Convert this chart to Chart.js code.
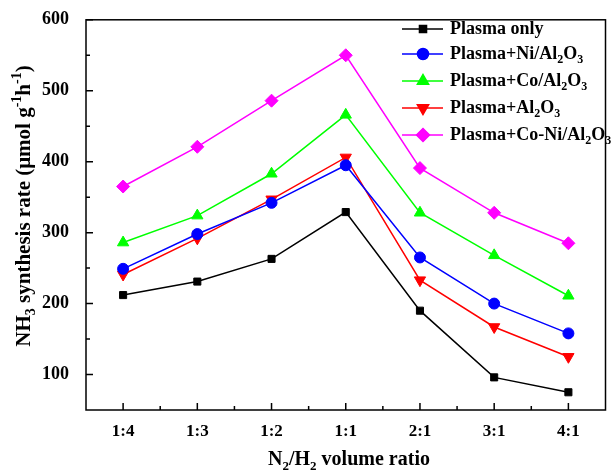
<!DOCTYPE html>
<html>
<head>
<meta charset="utf-8">
<script src="https://cdn.jsdelivr.net/npm/chart.js@4/dist/chart.umd.min.js"></script>
<style>
  body { margin: 0; background: #fff; }
  #wrap { width: 613px; height: 472px; }
</style>
</head>
<body>
<div id="wrap"><canvas id="rateChart" width="613" height="472"></canvas></div>
<script>
// N2/H2 ratio categories and NH3 synthesis rates (umol g-1 h-1)
const ratios = ['1:4', '1:3', '1:2', '1:1', '2:1', '3:1', '4:1'];
const plasmaOnly = [212, 231, 263, 329, 190, 96, 75];
const plasmaNi = [249, 298, 342, 395, 265, 200, 158];
const plasmaCo = [286, 324, 383, 466, 328, 268, 211];
const plasmaAl = [241, 292, 347, 406, 233, 167, 125];
const plasmaCoNi = [365, 421, 486, 550, 391, 328, 285];

const yTicks = [100, 200, 300, 400, 500, 600];
const yMinorTicks = [150, 250, 350, 450, 550];

// legend text pieces: [text, 0 normal / -1 subscript / 1 superscript]
const legendLabels = [
    [['Plasma only', 0]],
    [['Plasma+Ni/Al', 0], ['2', -1], ['O', 0], ['3', -1]],
    [['Plasma+Co/Al', 0], ['2', -1], ['O', 0], ['3', -1]],
    [['Plasma+Al', 0], ['2', -1], ['O', 0], ['3', -1]],
    [['Plasma+Co-Ni/Al', 0], ['2', -1], ['O', 0], ['3', -1]]
];
const xTitle = [['N', 0], ['2', -1], ['/H', 0], ['2', -1], [' volume ratio', 0]];
const yTitle = [['NH', 0], ['3', -1], [' synthesis rate (\u03bcmol g', 0], ['-1', 1], ['h', 0], ['-1', 1], [')', 0]];

const FONT = '"Liberation Serif", "Times New Roman", serif';

function richWidth(ctx, segs, size) {
    let w = 0;
    segs.forEach(s => {
        ctx.font = 'bold ' + (s[1] ? Math.round(size * 0.65) : size) + 'px ' + FONT;
        w += ctx.measureText(s[0]).width;
    });
    return w;
}

function drawRich(ctx, segs, x, y, size) {
    let cx = x;
    ctx.textBaseline = 'middle';
    ctx.textAlign = 'left';
    segs.forEach(s => {
        const small = s[1] !== 0;
        ctx.font = 'bold ' + (small ? Math.round(size * 0.65) : size) + 'px ' + FONT;
        let dy = 0;
        if (s[1] === -1) dy = size * 0.32;
        if (s[1] === 1) dy = -size * 0.35;
        ctx.fillText(s[0], cx, y + dy);
        cx += ctx.measureText(s[0]).width;
    });
}

// frame, inward ticks, axis titles and legend
const decorPlugin = {
    id: 'decor',
    afterDraw(chart) {
        const ctx = chart.ctx;
        const area = chart.chartArea;
        const xs = chart.scales.x;
        const ys = chart.scales.y;
        ctx.save();
        ctx.strokeStyle = '#000';
        ctx.fillStyle = '#000';
        ctx.lineWidth = 1.5;
        ctx.strokeRect(area.left, area.top, area.right - area.left, area.bottom - area.top);

        ctx.beginPath();
        ratios.forEach((r, i) => {
            const px = xs.getPixelForValue(i);
            ctx.moveTo(px, area.bottom);
            ctx.lineTo(px, area.bottom - 7);
            if (i > 0) {
                const mx = (px + xs.getPixelForValue(i - 1)) / 2;
                ctx.moveTo(mx, area.bottom);
                ctx.lineTo(mx, area.bottom - 4);
            }
        });
        yTicks.forEach(v => {
            const py = ys.getPixelForValue(v);
            ctx.moveTo(area.left, py);
            ctx.lineTo(area.left + 7, py);
        });
        yMinorTicks.forEach(v => {
            const py = ys.getPixelForValue(v);
            ctx.moveTo(area.left, py);
            ctx.lineTo(area.left + 4, py);
        });
        ctx.stroke();

        // axis titles
        const xw = richWidth(ctx, xTitle, 20);
        drawRich(ctx, xTitle, 349 - xw / 2, 460, 20);
        ctx.save();
        ctx.translate(25, 206);
        ctx.rotate(-Math.PI / 2);
        const yw = richWidth(ctx, yTitle, 21);
        drawRich(ctx, yTitle, -yw / 2, 0, 21);
        ctx.restore();

        // legend
        const rows = [29, 54, 81, 108, 135];
        chart.data.datasets.forEach((ds, i) => {
            const y = rows[i];
            ctx.strokeStyle = ds.borderColor;
            ctx.lineWidth = 1.5;
            ctx.beginPath();
            ctx.moveTo(402, y);
            ctx.lineTo(443, y);
            ctx.stroke();
            Chart.helpers.drawPoint(ctx, {
                pointStyle: ds.pointStyle,
                radius: ds.pointRadius,
                rotation: ds.pointRotation || 0,
                borderWidth: 1
            }, 423, y);
            ctx.fillStyle = ds.borderColor;
            ctx.fill();
            ctx.fillStyle = '#000';
            drawRich(ctx, legendLabels[i], 450, y, 18);
        });
        ctx.restore();
    }
};

function series(label, data, color, style, radius, rotation) {
    return {
        label: label,
        data: data,
        borderColor: color,
        backgroundColor: color,
        pointBackgroundColor: color,
        pointBorderColor: color,
        borderWidth: 1.5,
        pointStyle: style,
        pointRadius: radius,
        pointRotation: rotation || 0,
        pointBorderWidth: 1,
        tension: 0
    };
}

new Chart(document.getElementById('rateChart'), {
    type: 'line',
    data: {
        labels: ratios,
        datasets: [
            series('Plasma only', plasmaOnly, '#000000', 'rect', 5),
            series('Plasma+Ni/Al2O3', plasmaNi, '#0000ff', 'circle', 5.5),
            series('Plasma+Co/Al2O3', plasmaCo, '#00ff00', 'triangle', 6.5),
            series('Plasma+Al2O3', plasmaAl, '#ff0000', 'triangle', 6.5, 180),
            series('Plasma+Co-Ni/Al2O3', plasmaCoNi, '#ff00ff', 'rectRot', 6.5)
        ]
    },
    options: {
        responsive: false,
        animation: false,
        layout: { padding: { top: 17, right: 4, left: 0, bottom: 0 } },
        plugins: {
            legend: { display: false },
            tooltip: { enabled: false }
        },
        scales: {
            x: {
                offset: true,
                grid: { display: false },
                border: { display: false },
                ticks: {
                    color: '#000',
                    padding: 3,
                    maxRotation: 0,
                    font: { family: FONT, size: 17, weight: 'bold' }
                },
                afterFit: scale => { scale.height = 62; }
            },
            y: {
                min: 50,
                max: 600,
                grid: { display: false },
                border: { display: false },
                afterBuildTicks: scale => {
                    scale.ticks = yTicks.map(v => ({ value: v }));
                },
                ticks: {
                    color: '#000',
                    padding: 9,
                    font: { family: FONT, size: 18, weight: 'bold' }
                },
                afterFit: scale => { scale.width = 86; }
            }
        }
    },
    plugins: [decorPlugin]
});
</script>
</body>
</html>
